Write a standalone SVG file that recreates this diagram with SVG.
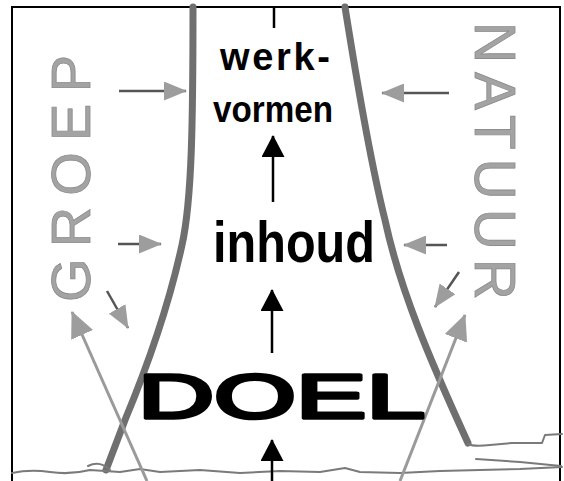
<svg xmlns="http://www.w3.org/2000/svg" width="564" height="481" viewBox="0 0 564 481">
<style>
.trunk{fill:none;stroke:#6f6f6f;stroke-width:7;stroke-linecap:round;stroke-linejoin:round}
.ground{fill:none;stroke:#7a7a7a;stroke-width:2;stroke-linecap:round;stroke-linejoin:round}
.sg{stroke:#555;stroke-width:2.5;fill:none}
.lg{stroke:#9a9a9a;stroke-width:3;fill:none}
.bk{stroke:#000;stroke-width:2.5;fill:none}
.lbl{font-family:"Liberation Sans",Arial,sans-serif;font-weight:bold;fill:#000}
.side{font-family:"Liberation Sans",Arial,sans-serif;font-weight:normal;fill:#a3a3a3;stroke:#8c8c8c;stroke-width:0.8}
</style>
<defs>
<marker id="mB" viewBox="0 0 22 23" refX="21" refY="11.5" markerWidth="22" markerHeight="23" orient="auto" markerUnits="userSpaceOnUse"><path d="M0,0 L22,11.5 L0,23 z" fill="#000"/></marker>
<marker id="mG" viewBox="0 0 23 19" refX="22" refY="9.5" markerWidth="23" markerHeight="19" orient="auto" markerUnits="userSpaceOnUse"><path d="M0,0 L23,9.5 L0,19 z" fill="#9d9d9d"/></marker>
<marker id="mL" viewBox="0 0 26 24" refX="25" refY="12" markerWidth="26" markerHeight="24" orient="auto" markerUnits="userSpaceOnUse"><path d="M0,0 L26,12 L0,24 z" fill="#9d9d9d"/></marker>
</defs>
<rect x="0" y="0" width="564" height="481" fill="#fff"/>
<rect x="12" y="7" width="548" height="490" fill="none" stroke="#000" stroke-width="2"/>
<g id="trunk">
<path class="trunk" d="M193,7 C193,120 192,200 182,245 C170,300 150,360 125,420 L106,470"/>
<path class="trunk" d="M345,7 C355,70 370,160 385,220 C400,290 430,360 468,443"/>
<path class="ground" d="M468,444 Q474,447 490,445 L512,443 L542,443 L545,435 L562,434" stroke-width="3"/>
<path class="ground" d="M476,459 L520,462 L561,466" stroke-width="3"/>
<path class="ground" d="M88,466 Q100,460 110,470"/>
<path class="ground" d="M12,473 Q30,469 50,472 T90,470 L120,472 L140,469 L160,472 L200,470 L240,473 L280,471 L320,472 L345,468 L360,472 L400,473 L440,471 L480,470 L520,469 L562,467"/>
</g>
<g id="connectors">
<line class="sg" x1="119" y1="91" x2="186" y2="91" marker-end="url(#mG)"/>
<line class="sg" x1="449" y1="93" x2="382" y2="93" marker-end="url(#mG)"/>
<line class="sg" x1="118" y1="244" x2="161" y2="244" marker-end="url(#mG)"/>
<line class="sg" x1="447" y1="245" x2="404" y2="245" marker-end="url(#mG)"/>
<line class="sg" x1="107" y1="291" x2="128" y2="328" marker-end="url(#mG)"/>
<line class="sg" x1="459" y1="272" x2="435" y2="307" marker-end="url(#mG)"/>
<line class="lg" x1="147" y1="481" x2="72" y2="312" marker-end="url(#mL)"/>
<line class="lg" x1="400" y1="481" x2="465" y2="315" marker-end="url(#mL)"/>
<line class="bk" x1="274" y1="7" x2="274" y2="28"/>
<line class="bk" x1="273" y1="202" x2="273" y2="136" marker-end="url(#mB)"/>
<line class="bk" x1="272" y1="353" x2="272" y2="290" marker-end="url(#mB)"/>
<line class="bk" x1="272" y1="481" x2="272" y2="440" marker-end="url(#mB)"/>
</g>
<g id="node-werkvormen">
<text class="lbl" x="220" y="70" font-size="38" textLength="110" lengthAdjust="spacing">werk-</text>
<text class="lbl" x="213" y="122" font-size="36" textLength="120" lengthAdjust="spacingAndGlyphs">vormen</text>
</g>
<g id="node-inhoud">
<text class="lbl" x="213" y="262" font-size="57" textLength="162" lengthAdjust="spacingAndGlyphs">inhoud</text>
</g>
<g id="node-doel">
<text x="138" y="418" font-family="'Liberation Sans',Arial,sans-serif" font-size="63" fill="#000" stroke="#000" stroke-width="3.5" stroke-linejoin="round" textLength="287" lengthAdjust="spacingAndGlyphs">DOEL</text>
</g>
<g id="node-groep">
<text class="side" transform="translate(90,302) rotate(-90)" x="0" y="0" font-size="56" textLength="247" lengthAdjust="spacing">GROEP</text>
</g>
<g id="node-natuur">
<text class="side" transform="translate(475,22) rotate(90)" x="0" y="0" font-size="57" textLength="278" lengthAdjust="spacing">NATUUR</text>
</g>
</svg>
